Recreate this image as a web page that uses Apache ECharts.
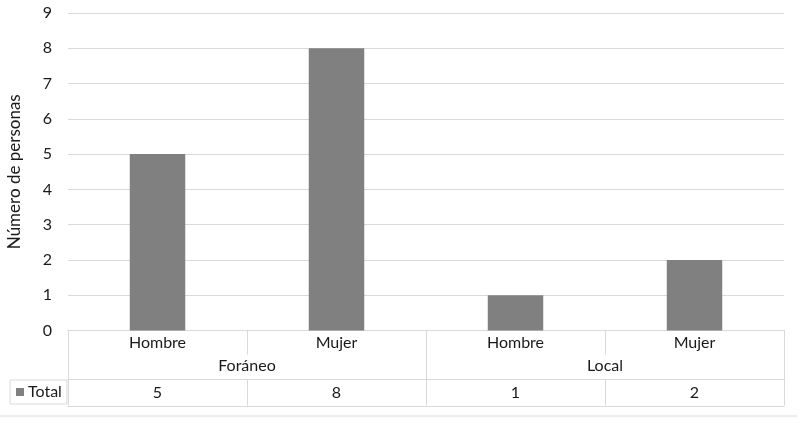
<!DOCTYPE html>
<html>
<head>
  <meta charset="utf-8">
  <title>Número de personas</title>
  <script src="https://cdn.jsdelivr.net/npm/echarts@6/dist/echarts.min.js"></script>
  <style>
    html, body { margin: 0; padding: 0; background: #fff; }
    #graph { width: 800px; height: 423px; }
  </style>
</head>
<body>
  <div id="graph"></div>

  <script>
    var myChart = echarts.init(document.getElementById('graph'));

    // data
    var categories = ['Hombre', 'Mujer', 'Hombre', 'Mujer'];
    var groups = ['Foráneo', 'Local'];
    var totals = [5, 8, 1, 2];
    var yMin = 0, yMax = 9, yStep = 1;

    var font = 'Lato, "Open Sans", sans-serif';
    var textColor = '#1a1a1a';
    var gridColor = '#d9d9d9';
    var fs = 16;
    var line = { lineStyle: { color: gridColor, width: 1 } };

    var option = {
      animation: false,
      textStyle: { fontFamily: font },
      grid: { left: 68, right: 16, top: 13, bottom: 92.5, containLabel: false, outerBoundsMode: 'none' },
      legend: {
        data: ['Total'],
        left: 10,
        top: 380,
        icon: 'rect',
        itemWidth: 8,
        itemHeight: 8,
        itemGap: 4,
        padding: [4, 5, 4, 6],
        borderColor: gridColor,
        borderWidth: 1,
        textStyle: { color: textColor, fontSize: fs, fontFamily: font, padding: [0, 0, 0, -1] }
      },
      xAxis: [
        {
          // categories row
          type: 'category',
          data: categories,
          position: 'bottom',
          axisLine: line,
          axisTick: { show: true, length: 24, lineStyle: line.lineStyle },
          axisLabel: { color: textColor, fontSize: fs, margin: 4, fontFamily: font }
        },
        {
          // group row
          type: 'category',
          data: groups,
          position: 'bottom',
          axisLine: line,
          axisTick: { show: true, length: 49, lineStyle: line.lineStyle },
          axisLabel: { color: textColor, fontSize: fs, margin: 27, fontFamily: font }
        },
        {
          // data table row
          type: 'category',
          data: categories,
          position: 'bottom',
          offset: 49,
          axisLine: line,
          axisTick: { show: true, length: 26, lineStyle: line.lineStyle },
          axisLabel: {
            color: textColor, fontSize: fs, margin: 5, fontFamily: font,
            formatter: function (v, i) { return String(totals[i]); }
          }
        },
        {
          // bottom border of the table
          type: 'category',
          data: categories,
          position: 'bottom',
          offset: 76,
          axisLine: line,
          axisTick: { show: false },
          axisLabel: { show: false }
        }
      ],
      yAxis: {
        type: 'value',
        min: yMin,
        max: yMax,
        interval: yStep,
        name: 'Número de personas',
        nameLocation: 'middle',
        nameGap: 45,
        nameTextStyle: { color: textColor, fontSize: 17, fontFamily: font },
        axisLine: { show: false },
        axisTick: { show: false },
        axisLabel: { color: textColor, fontSize: fs, margin: 16, fontFamily: font },
        splitLine: line
      },
      graphic: [
        {
          type: 'line',
          shape: { x1: 0, y1: 416, x2: 797, y2: 416 },
          style: { stroke: gridColor, lineWidth: 1 }
        }
      ],
      series: [
        {
          name: 'Total',
          type: 'bar',
          xAxisIndex: 0,
          yAxisIndex: 0,
          data: totals,
          barWidth: '31%',
          itemStyle: { color: '#808080' }
        }
      ]
    };

    myChart.setOption(option);
  </script>
</body>
</html>
